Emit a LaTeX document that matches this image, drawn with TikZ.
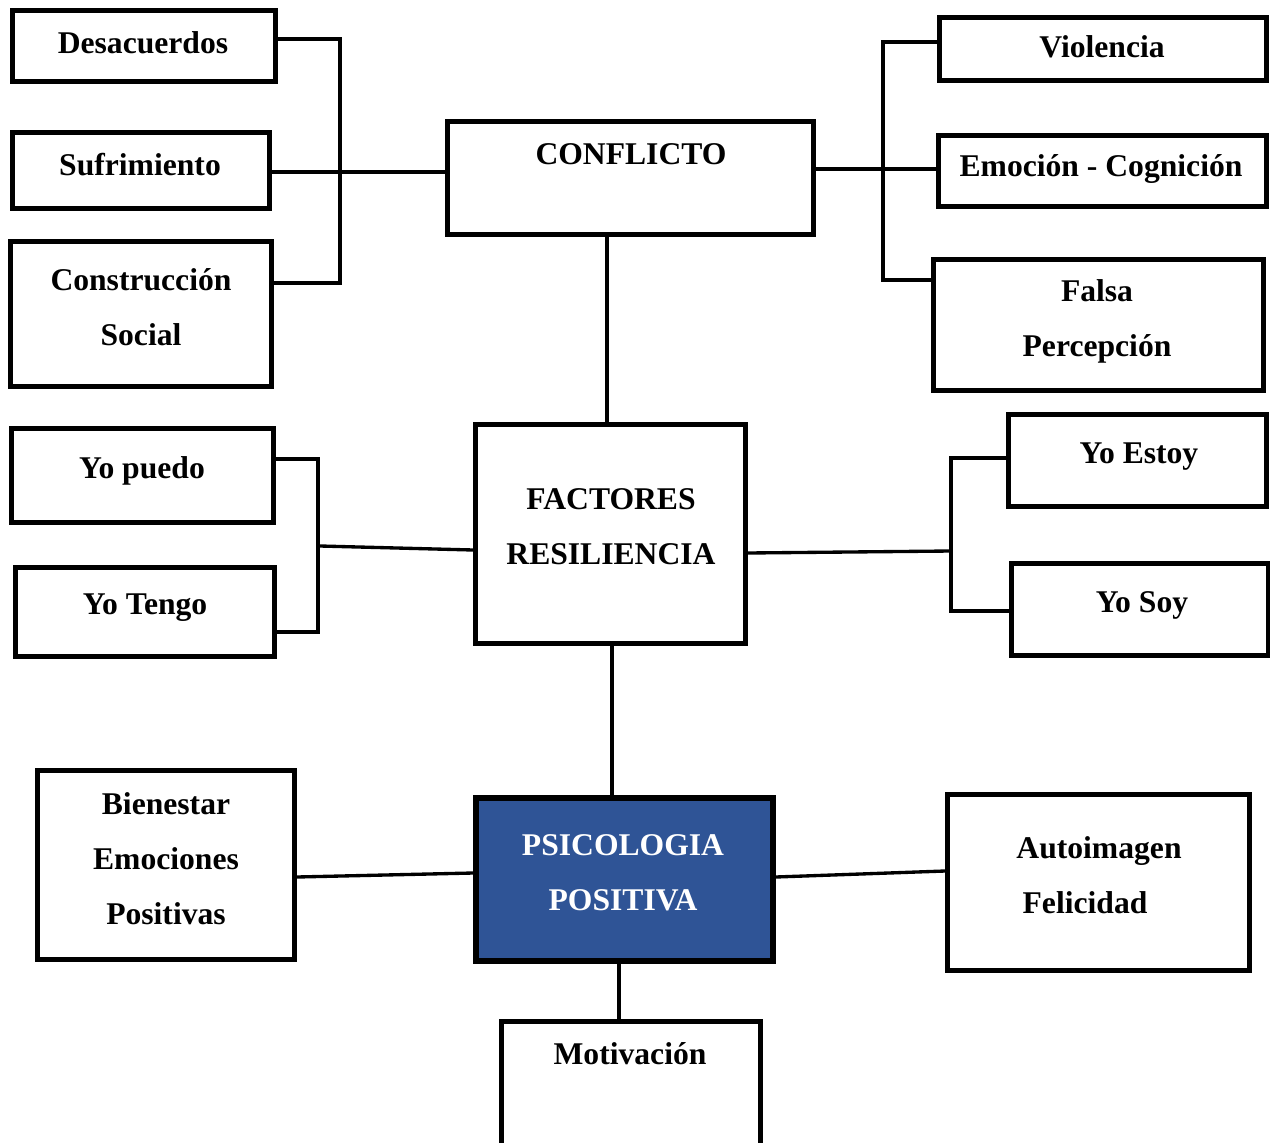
\documentclass[tikz,border=0pt]{standalone}
\usepackage{fontspec}
\setmainfont{Liberation Serif}
\definecolor{posblue}{RGB}{47,84,150}
\begin{document}
\begin{tikzpicture}[x=0.02cm,y=-0.02cm,
  box/.style={draw,line width=2.8pt,rectangle,inner sep=0pt},
  lbl/.style={anchor=base,inner sep=0pt,font=\fontsize{18}{22}\selectfont\bfseries},
  link/.style={line width=1.9pt}]
\useasboundingbox (0,0) rectangle (1270,1142);
\clip (0,0) rectangle (1270,1142);

% ---- boxes ----
\node[box,minimum width=5.26cm,minimum height=1.42cm] (desac)  at (144,46) {};
\node[box,minimum width=5.14cm,minimum height=1.52cm] (sufri)  at (141,170.5) {};
\node[box,minimum width=5.22cm,minimum height=2.90cm] (constr) at (141,314) {};
\node[box,minimum width=7.32cm,minimum height=2.26cm] (conf)   at (630.5,178) {};
\node[box,minimum width=6.54cm,minimum height=1.26cm] (viol)   at (1103,49) {};
\node[box,minimum width=6.56cm,minimum height=1.42cm] (emoc)   at (1102.5,171) {};
\node[box,minimum width=6.60cm,minimum height=2.62cm] (falsa)  at (1098.5,325) {};
\node[box,minimum width=5.24cm,minimum height=1.88cm] (puedo)  at (142.5,475.5) {};
\node[box,minimum width=5.18cm,minimum height=1.78cm] (tengo)  at (145,612) {};
\node[box,minimum width=5.40cm,minimum height=4.38cm] (fact)   at (610.5,534) {};
\node[box,minimum width=5.16cm,minimum height=1.84cm] (estoy)  at (1137.5,460.5) {};
\node[box,minimum width=5.13cm,minimum height=1.84cm] (soy)    at (1139.75,609.5) {};
\node[box,minimum width=5.14cm,minimum height=3.78cm] (bien)   at (166,865) {};
\node[box,line width=3.2pt,fill=posblue,minimum width=5.94cm,minimum height=3.26cm] (psico) at (624.5,879.5) {};
\node[box,minimum width=6.04cm,minimum height=3.52cm] (auto)   at (1098.5,882.5) {};
\node[box,minimum width=5.18cm,minimum height=2.77cm] (motiv)  at (631,1090.75) {};

% ---- labels ----
\node[lbl] (tdesac)  at (143,54)   {Desacuerdos};
\node[lbl] (tsufri)  at (140,175)  {Sufrimiento};
\node[lbl] (tconstr) at (141,290)  {Construcción};
\node[lbl] (tsocial) at (141,345)  {Social};
\node[lbl] (tconf)   at (631,165)  {CONFLICTO};
\node[lbl] (tviol)   at (1102,58)  {Violencia};
\node[lbl] (temoc)   at (1101,176) {Emoción - Cognición};
\node[lbl] (tfalsa)  at (1097,301) {Falsa};
\node[lbl] (tperc)   at (1097,356) {Percepción};
\node[lbl] (tpuedo)  at (142,478)  {Yo puedo};
\node[lbl] (ttengo)  at (145,614)  {Yo Tengo};
\node[lbl] (tfact)   at (611,509)  {FACTORES};
\node[lbl] (tresil)  at (611,564)  {RESILIENCIA};
\node[lbl] (testoy)  at (1139,463) {Yo Estoy};
\node[lbl] (tsoy)    at (1142,612) {Yo Soy};
\node[lbl] (tbien)   at (166,814)  {Bienestar};
\node[lbl] (temo)    at (166,869)  {Emociones};
\node[lbl] (tposv)   at (166,924)  {Positivas};
\node[lbl,text=white] (tpsico) at (623,855) {PSICOLOGIA};
\node[lbl,text=white] (tposit) at (623,910) {POSITIVA};
\node[lbl] (tauto)   at (1099,858) {Autoimagen};
\node[lbl] (tfelic)  at (1085,913) {Felicidad};
\node[lbl] (tmotiv)  at (630,1064) {Motivación};

% ---- junction points ----
\coordinate (lbt) at (340,39);
\coordinate (lbb) at (340,283);
\coordinate (rowS) at (0,172);
\coordinate (rbt) at (883,42);
\coordinate (rbb) at (883,280);
\coordinate (rowE) at (0,169);
\coordinate (colA) at (607,0);
\coordinate (ybt) at (318,459);
\coordinate (ybb) at (318,632);
\coordinate (ybm) at (320,546);
\coordinate (rowF) at (0,550);
\coordinate (rowG) at (0,553);
\coordinate (yrm) at (951,551);
\coordinate (yrt) at (951,458);
\coordinate (yrb) at (951,611);
\coordinate (colB) at (612,0);
\coordinate (colC) at (619,0);
\coordinate (rowB1) at (0,877);
\coordinate (rowB2) at (0,873);
\coordinate (rowA1) at (0,877);
\coordinate (rowA2) at (0,871);

% ---- connectors ----
\draw[link] (desac.east |- lbt) -- (lbt) -- (lbb) -- (constr.east |- lbb);
\draw[link] (sufri.east |- rowS) -- (conf.west |- rowS);
\draw[link] (viol.west |- rbt) -- (rbt) -- (rbb) -- (falsa.west |- rbb);
\draw[link] (conf.east |- rowE) -- (emoc.west |- rowE);
\draw[link] (conf.south -| colA) -- (fact.north -| colA);
\draw[link] (puedo.east |- ybt) -- (ybt) -- (ybb) -- (tengo.east |- ybb);
\draw[link] (ybm) -- (fact.west |- rowF);
\draw[link] (fact.east |- rowG) -- (yrm);
\draw[link] (estoy.west |- yrt) -- (yrt) -- (yrb) -- (soy.west |- yrb);
\draw[link] (fact.south -| colB) -- (psico.north -| colB);
\draw[link] (bien.east |- rowB1) -- (psico.west |- rowB2);
\draw[link] (psico.east |- rowA1) -- (auto.west |- rowA2);
\draw[link] (psico.south -| colC) -- (motiv.north -| colC);
\end{tikzpicture}
\end{document}
